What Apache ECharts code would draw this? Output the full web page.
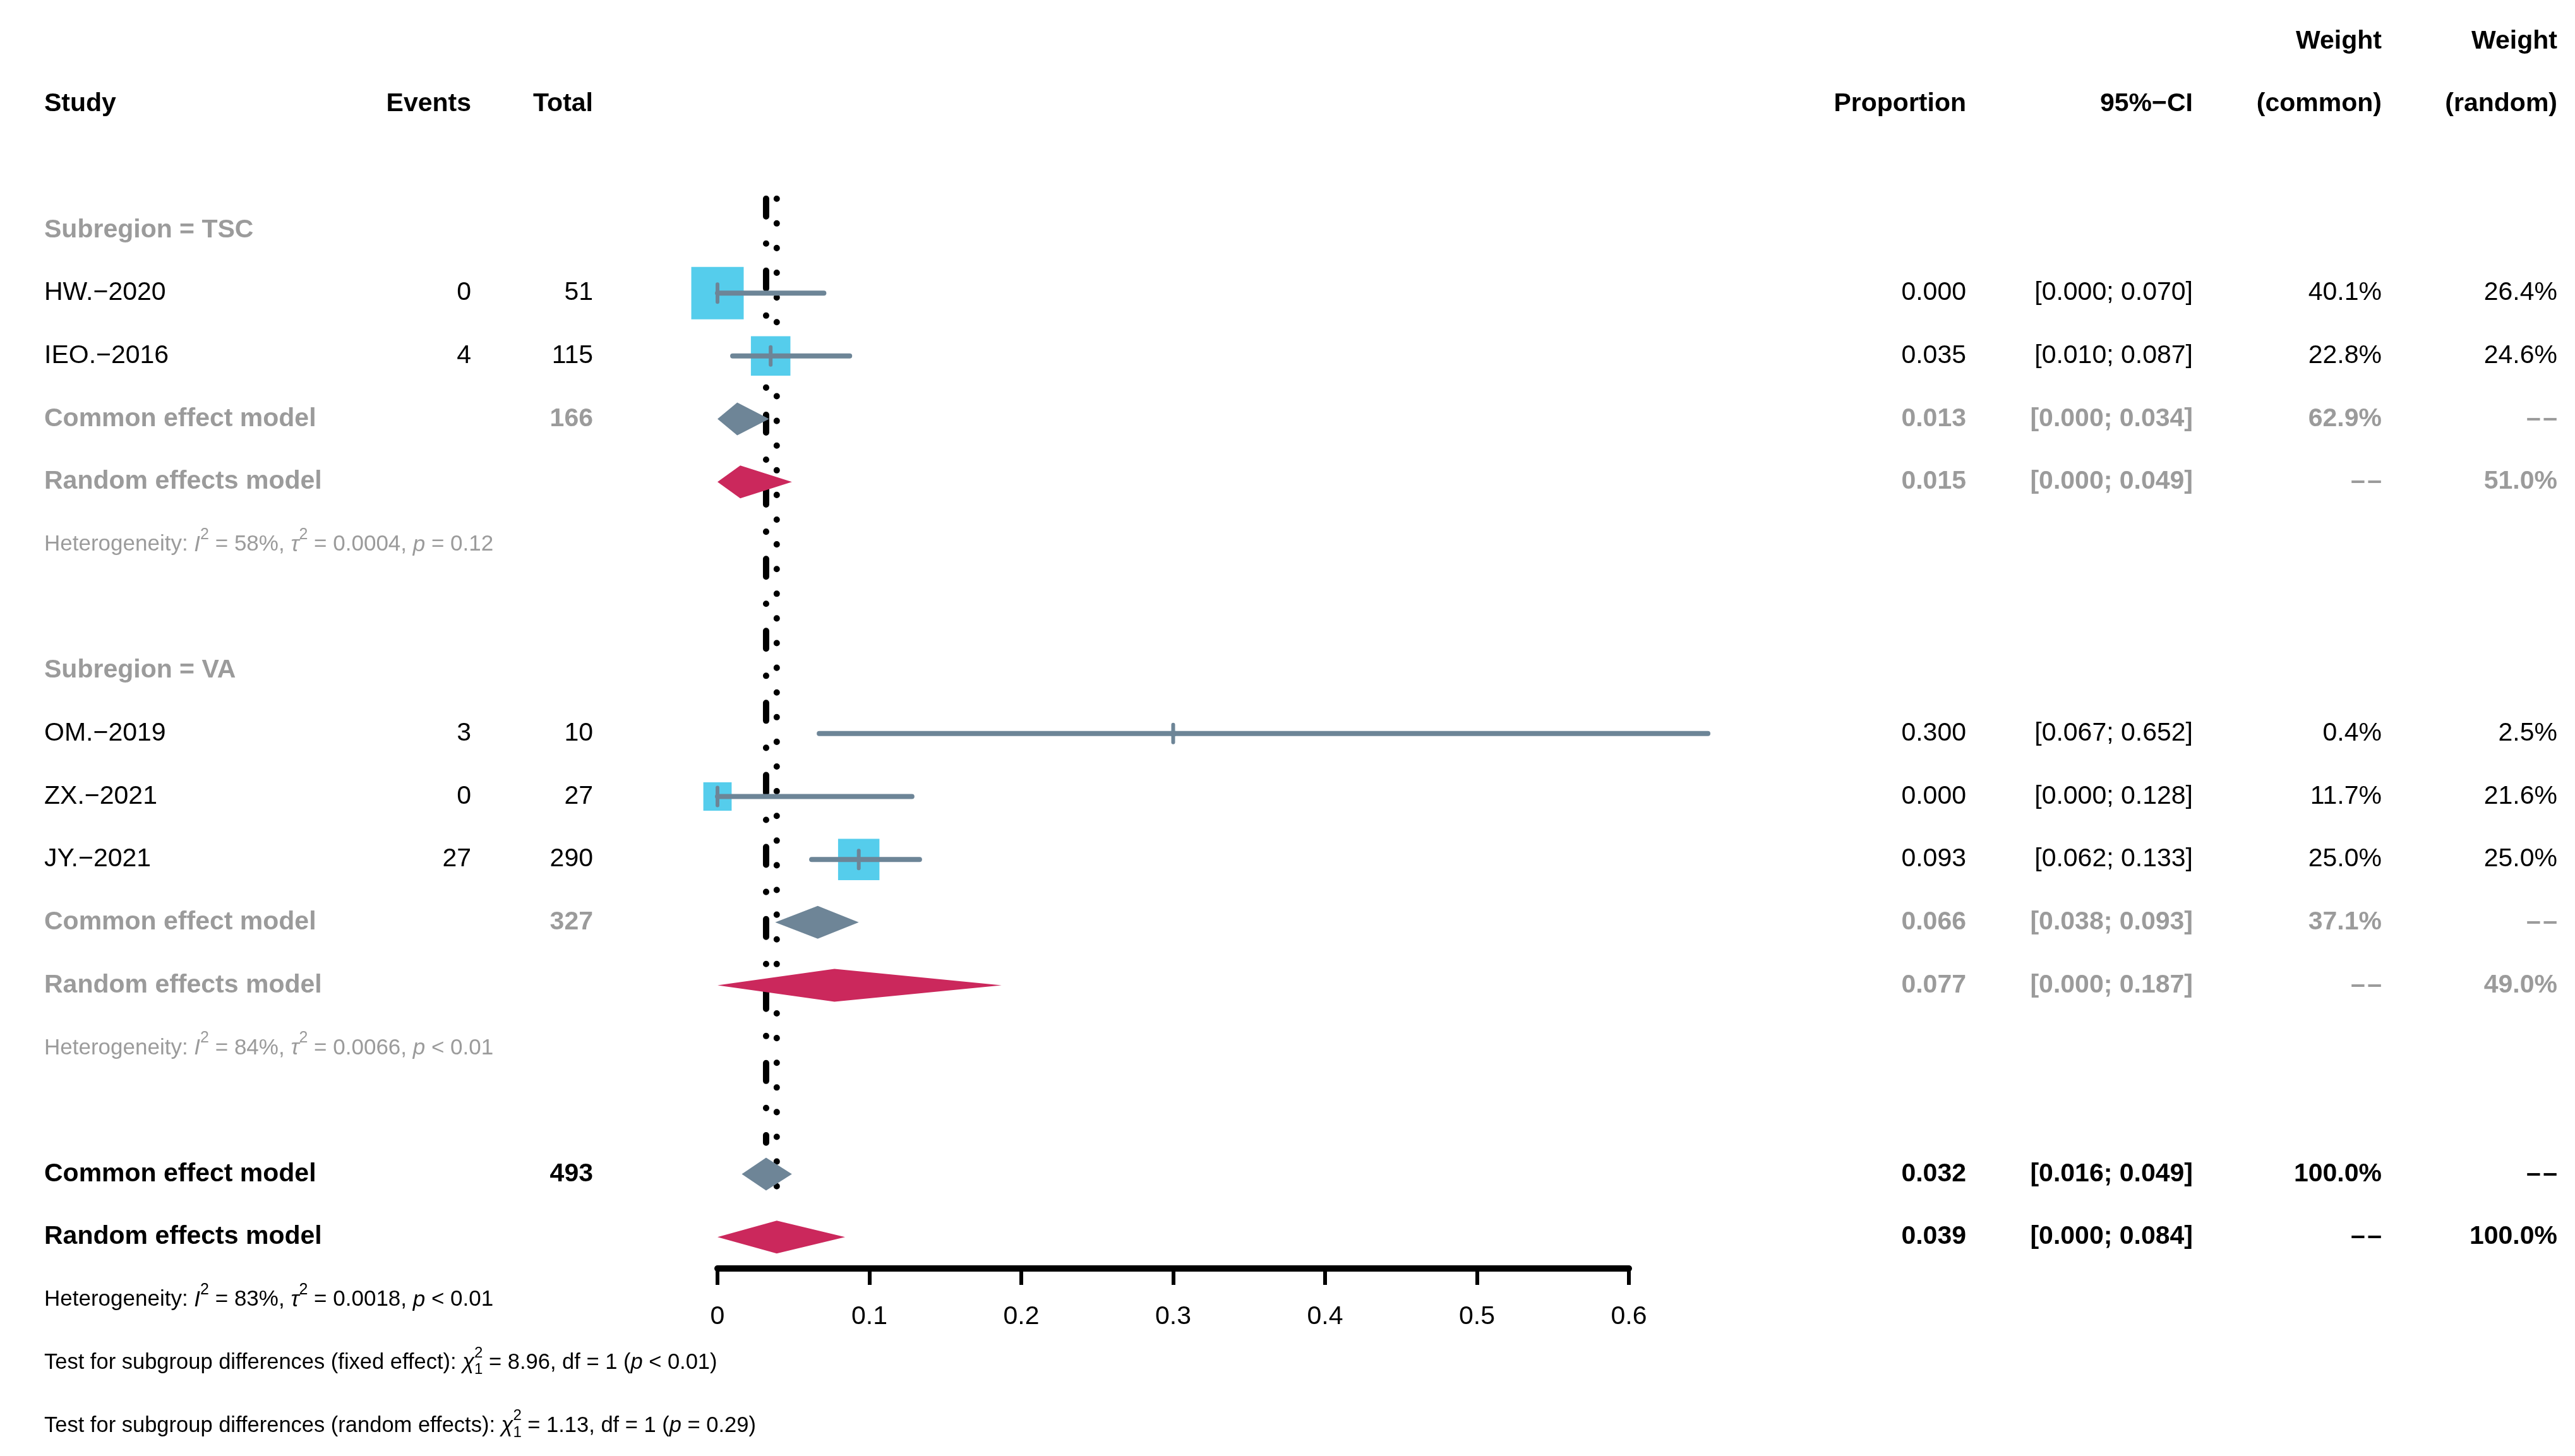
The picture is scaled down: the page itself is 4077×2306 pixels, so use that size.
<!DOCTYPE html>
<html><head><meta charset="utf-8">
<script src="https://cdn.jsdelivr.net/npm/echarts@6/dist/echarts.min.js"></script>
<style>html,body{margin:0;padding:0;background:#fff}#c{width:4077px;height:2306px}</style>
</head><body><div id="c"></div>
<script>
// ---------------- DATA ----------------
const studies      = ['HW.\u22122020', 'IEO.\u22122016', 'OM.\u22122019', 'ZX.\u22122021', 'JY.\u22122021'];
const subgroup     = ['TSC', 'TSC', 'VA', 'VA', 'VA'];
const events       = [0, 4, 3, 0, 27];
const totals       = [51, 115, 10, 27, 290];
const proportion   = [0.000, 0.035, 0.300, 0.000, 0.093];
const ciLower      = [0.000, 0.010, 0.067, 0.000, 0.062];
const ciUpper      = [0.070, 0.087, 0.652, 0.128, 0.133];
const weightCommon = [40.1, 22.8, 0.4, 11.7, 25.0];
const weightRandom = [26.4, 24.6, 2.5, 21.6, 25.0];

const groupNames      = ['TSC', 'VA'];
const groupTotals     = [166, 327];
const groupCommonEst  = [0.013, 0.066];
const groupCommonLo   = [0.000, 0.038];
const groupCommonHi   = [0.034, 0.093];
const groupCommonW    = [62.9, 37.1];
const groupRandomEst  = [0.015, 0.077];
const groupRandomLo   = [0.000, 0.000];
const groupRandomHi   = [0.049, 0.187];
const groupRandomW    = [51.0, 49.0];
const groupI2         = ['58%', '84%'];
const groupTau2       = ['0.0004', '0.0066'];
const groupP          = ['= 0.12', '< 0.01'];

const overallTotal     = 493;
const overallCommon    = [0.032, 0.016, 0.049]; // est, lo, hi
const overallRandom    = [0.039, 0.000, 0.084];
const overallI2 = '83%', overallTau2 = '0.0018', overallP = '< 0.01';

const testFixed  = {chi2: '8.96', df: '1', p: '< 0.01'};
const testRandom = {chi2: '1.13', df: '1', p: '= 0.29'};

const xTicks = [0, 0.1, 0.2, 0.3, 0.4, 0.5, 0.6];

// ---------------- STYLE / LAYOUT ----------------
const FONT = '"Liberation Sans", Arial, Helvetica, sans-serif';
const BIG = 41, SMALL = 35, TEST = 34.5;
const GRAY = '#9b9b9b';
const SQ = '#55cdec', CIC = '#6d8597', DIA_C = '#6e8597', DIA_R = '#cb285c';
const COL = {study: 70, events: 746, total: 939, prop: 3113, ci: 3472, wc: 3771, wr: 4049};
const SQ_SCALE = 13.1;   // px per sqrt(weight %)
const DIA_H = 26;        // diamond half height px
const DASH2 = '\u2013\u200a\u2013';

// ---------------- ROW BUILD ----------------
const rows = [];
rows.push({k: -1, type: 'head1'});
rows.push({k: 0, type: 'head2'});
let k = 2;
const studyRow = [];
const groupRow = [];
groupNames.forEach((g, gi) => {
  rows.push({k: k++, type: 'group', gi});
  studies.forEach((s, i) => { if (subgroup[i] === g) { studyRow[i] = k; rows.push({k: k++, type: 'study', i}); } });
  const rc = k; rows.push({k: k++, type: 'gcommon', gi});
  const rr = k; rows.push({k: k++, type: 'grandom', gi});
  groupRow.push([rc, rr]);
  rows.push({k: k++, type: 'ghet', gi});
  k++;
});
const ocRow = k; rows.push({k: k++, type: 'ocommon'});
const orRow = k; rows.push({k: k++, type: 'orandom'});
rows.push({k: k++, type: 'ohet'});
rows.push({k: k++, type: 'tfixed'});
rows.push({k: k++, type: 'trandom'});

const ctx = document.createElement('canvas').getContext('2d');
function measure(t, size, bold, italic) {
  ctx.font = (italic ? 'italic ' : '') + (bold ? 'bold ' : '') + size + 'px ' + FONT;
  return ctx.measureText(t).width;
}
function txt(x, y, text, o) {
  o = o || {};
  const al = o.align || 'left';
  return {type: 'text', x: x, y: y, style: {
    text: text, fontFamily: FONT, fontSize: o.size || BIG,
    fontWeight: o.bold ? 'bold' : 'normal', fontStyle: o.italic ? 'italic' : 'normal',
    fill: o.color || '#000', align: al, textAlign: al, verticalAlign: 'middle', textVerticalAlign: 'middle'}};
}
function runs(x, y, parts, size, color) {
  const out = []; let cx = x; const s = Math.round(size * 0.7);
  parts.forEach(p => {
    if (p.stack) {
      out.push(txt(cx, y - size * 0.45, p.stack[0], {size: s, color}));
      out.push(txt(cx, y + size * 0.32, p.stack[1], {size: s, color}));
      cx += Math.max(measure(p.stack[0], s), measure(p.stack[1], s));
    } else if (p.sup) {
      out.push(txt(cx, y - size * 0.45, p.t, {size: s, color}));
      cx += measure(p.t, s);
    } else {
      out.push(txt(cx, y, p.t, {size, color, italic: p.it}));
      cx += measure(p.t, size, false, p.it);
    }
  });
  return out;
}
function hetParts(i2, tau2, p) {
  return [{t: 'Heterogeneity: '}, {t: 'I', it: true}, {t: '2', sup: true}, {t: ' = ' + i2 + ', '},
          {t: '\u03c4', it: true}, {t: '2', sup: true}, {t: ' = ' + tau2 + ', '}, {t: 'p', it: true}, {t: ' ' + p}];
}
function testParts(label, t) {
  return [{t: 'Test for subgroup differences (' + label + '): '}, {t: '\u03c7', it: true}, {stack: ['2', '1']},
          {t: ' = ' + t.chi2 + ', df = ' + t.df + ' ('}, {t: 'p', it: true}, {t: ' ' + t.p + ')'}];
}
const f3 = v => v.toFixed(3);
const ci = (lo, hi) => '[' + f3(lo) + '; ' + f3(hi) + ']';
const pc = v => v.toFixed(1) + '%';

function rowElements(r, y) {
  const R = (col, t, o) => txt(COL[col], y, t, Object.assign({align: 'right'}, o));
  const e = [];
  switch (r.type) {
    case 'head1':
      e.push(R('wc', 'Weight', {bold: true}), R('wr', 'Weight', {bold: true})); break;
    case 'head2':
      e.push(txt(COL.study, y, 'Study', {bold: true}), R('events', 'Events', {bold: true}), R('total', 'Total', {bold: true}),
             R('prop', 'Proportion', {bold: true}), R('ci', '95%\u2212CI', {bold: true}),
             R('wc', '(common)', {bold: true}), R('wr', '(random)', {bold: true})); break;
    case 'group':
      e.push(txt(COL.study, y, 'Subregion = ' + groupNames[r.gi], {bold: true, color: GRAY})); break;
    case 'study': {
      const i = r.i;
      e.push(txt(COL.study, y, studies[i]), R('events', String(events[i])), R('total', String(totals[i])),
             R('prop', f3(proportion[i])), R('ci', ci(ciLower[i], ciUpper[i])), R('wc', pc(weightCommon[i])), R('wr', pc(weightRandom[i])));
      break; }
    case 'gcommon': {
      const g = r.gi, o = {bold: true, color: GRAY};
      e.push(txt(COL.study, y, 'Common effect model', o), R('total', String(groupTotals[g]), o), R('prop', f3(groupCommonEst[g]), o),
             R('ci', ci(groupCommonLo[g], groupCommonHi[g]), o), R('wc', pc(groupCommonW[g]), o), R('wr', DASH2, o));
      break; }
    case 'grandom': {
      const g = r.gi, o = {bold: true, color: GRAY};
      e.push(txt(COL.study, y, 'Random effects model', o), R('prop', f3(groupRandomEst[g]), o),
             R('ci', ci(groupRandomLo[g], groupRandomHi[g]), o), R('wc', DASH2, o), R('wr', pc(groupRandomW[g]), o));
      break; }
    case 'ghet':
      e.push(...runs(COL.study, y, hetParts(groupI2[r.gi], groupTau2[r.gi], groupP[r.gi]), SMALL, GRAY)); break;
    case 'ocommon': {
      const o = {bold: true};
      e.push(txt(COL.study, y, 'Common effect model', o), R('total', String(overallTotal), o), R('prop', f3(overallCommon[0]), o),
             R('ci', ci(overallCommon[1], overallCommon[2]), o), R('wc', '100.0%', o), R('wr', DASH2, o));
      break; }
    case 'orandom': {
      const o = {bold: true};
      e.push(txt(COL.study, y, 'Random effects model', o), R('prop', f3(overallRandom[0]), o),
             R('ci', ci(overallRandom[1], overallRandom[2]), o), R('wc', DASH2, o), R('wr', '100.0%', o));
      break; }
    case 'ohet':
      e.push(...runs(COL.study, y, hetParts(overallI2, overallTau2, overallP), SMALL, '#000')); break;
    case 'tfixed':
      e.push(...runs(COL.study, y, testParts('fixed effect', testFixed), TEST, '#000')); break;
    case 'trandom':
      e.push(...runs(COL.study, y, testParts('random effects', testRandom), TEST, '#000')); break;
  }
  return e;
}

// mark data
const refData = [
  [overallCommon[0], 1.5, ocRow - 0.5, 0],
  [overallRandom[0], 1.5, orRow - 0.5, 1]
];
const squareData = studies.map((s, i) => [proportion[i], studyRow[i], weightCommon[i]]);
const ciData = studies.map((s, i) => [ciLower[i], ciUpper[i], proportion[i], studyRow[i]]);
const diamondData = [];
groupNames.forEach((g, gi) => {
  diamondData.push([groupCommonEst[gi], groupRow[gi][0], groupCommonLo[gi], groupCommonHi[gi], 0]);
  diamondData.push([groupRandomEst[gi], groupRow[gi][1], groupRandomLo[gi], groupRandomHi[gi], 1]);
});
diamondData.push([overallCommon[0], ocRow, overallCommon[1], overallCommon[2], 0]);
diamondData.push([overallRandom[0], orRow, overallRandom[1], overallRandom[2], 1]);

const chart = echarts.init(document.getElementById('c'), null, {renderer: 'canvas'});
chart.setOption({
  animation: false,
  backgroundColor: '#fff',
  grid: {left: 1136, right: 4077 - 2579, top: 65.5, bottom: 2306 - 2009},
  xAxis: {
    type: 'value', position: 'bottom', min: xTicks[0], max: xTicks[xTicks.length - 1], interval: 0.1,
    axisLine: {show: true, onZero: false, lineStyle: {color: '#000', width: 10}},
    axisTick: {show: true, length: 26, lineStyle: {color: '#000', width: 6}},
    axisLabel: {fontSize: BIG, color: '#000', fontFamily: FONT, margin: 56,
      formatter: v => { const t = xTicks.find(x => Math.abs(x - v) < 1e-9); return t === undefined ? '' : String(t); }},
    splitLine: {show: false}
  },
  yAxis: {type: 'value', min: -1, max: 18.5, inverse: true, show: false, splitLine: {show: false}},
  series: [
    { type: 'custom', z: 1, clip: false, data: refData,
      renderItem: (params, api) => {
        const x = api.value(0);
        const p1 = api.coord([x, api.value(1)]), p2 = api.coord([x, api.value(2)]);
        const dotted = api.value(3) === 1;
        return {type: 'line', shape: {x1: p1[0], y1: p1[1], x2: p2[0], y2: p2[1]},
          style: {stroke: '#000', lineWidth: 10, lineCap: 'round', lineDash: dotted ? [0.1, 39] : [28, 43, 0.1, 43]}};
      }},
    { type: 'custom', z: 2, clip: false, data: diamondData,
      renderItem: (params, api) => {
        const r = api.value(1);
        const c = api.coord([api.value(0), r]), l = api.coord([api.value(2), r]), h = api.coord([api.value(3), r]);
        return {type: 'polygon', shape: {points: [[l[0], c[1]], [c[0], c[1] - DIA_H], [h[0], c[1]], [c[0], c[1] + DIA_H]]},
          style: {fill: api.value(4) === 1 ? DIA_R : DIA_C}};
      }},
    { type: 'custom', z: 3, clip: false, data: squareData,
      renderItem: (params, api) => {
        const c = api.coord([api.value(0), api.value(1)]);
        const s = SQ_SCALE * Math.sqrt(api.value(2));
        return {type: 'rect', shape: {x: c[0] - s / 2, y: c[1] - s / 2, width: s, height: s}, style: {fill: SQ}};
      }},
    { type: 'custom', z: 4, clip: false, data: ciData,
      renderItem: (params, api) => {
        const r = api.value(3);
        const a = api.coord([api.value(0), r]), b = api.coord([api.value(1), r]), e = api.coord([api.value(2), r]);
        return {type: 'group', children: [
          {type: 'line', shape: {x1: a[0], y1: a[1], x2: b[0], y2: b[1]}, style: {stroke: CIC, lineWidth: 8, lineCap: 'round'}},
          {type: 'line', shape: {x1: e[0], y1: e[1] - 14, x2: e[0], y2: e[1] + 14}, style: {stroke: CIC, lineWidth: 6, lineCap: 'round'}}
        ]};
      }},
    { type: 'custom', z: 5, clip: false, data: rows.map(r => [0, r.k]),
      renderItem: (params, api) => {
        const r = rows[params.dataIndex];
        const y = api.coord([0, r.k])[1];
        return {type: 'group', children: rowElements(r, y)};
      }}
  ]
});
</script></body></html>
